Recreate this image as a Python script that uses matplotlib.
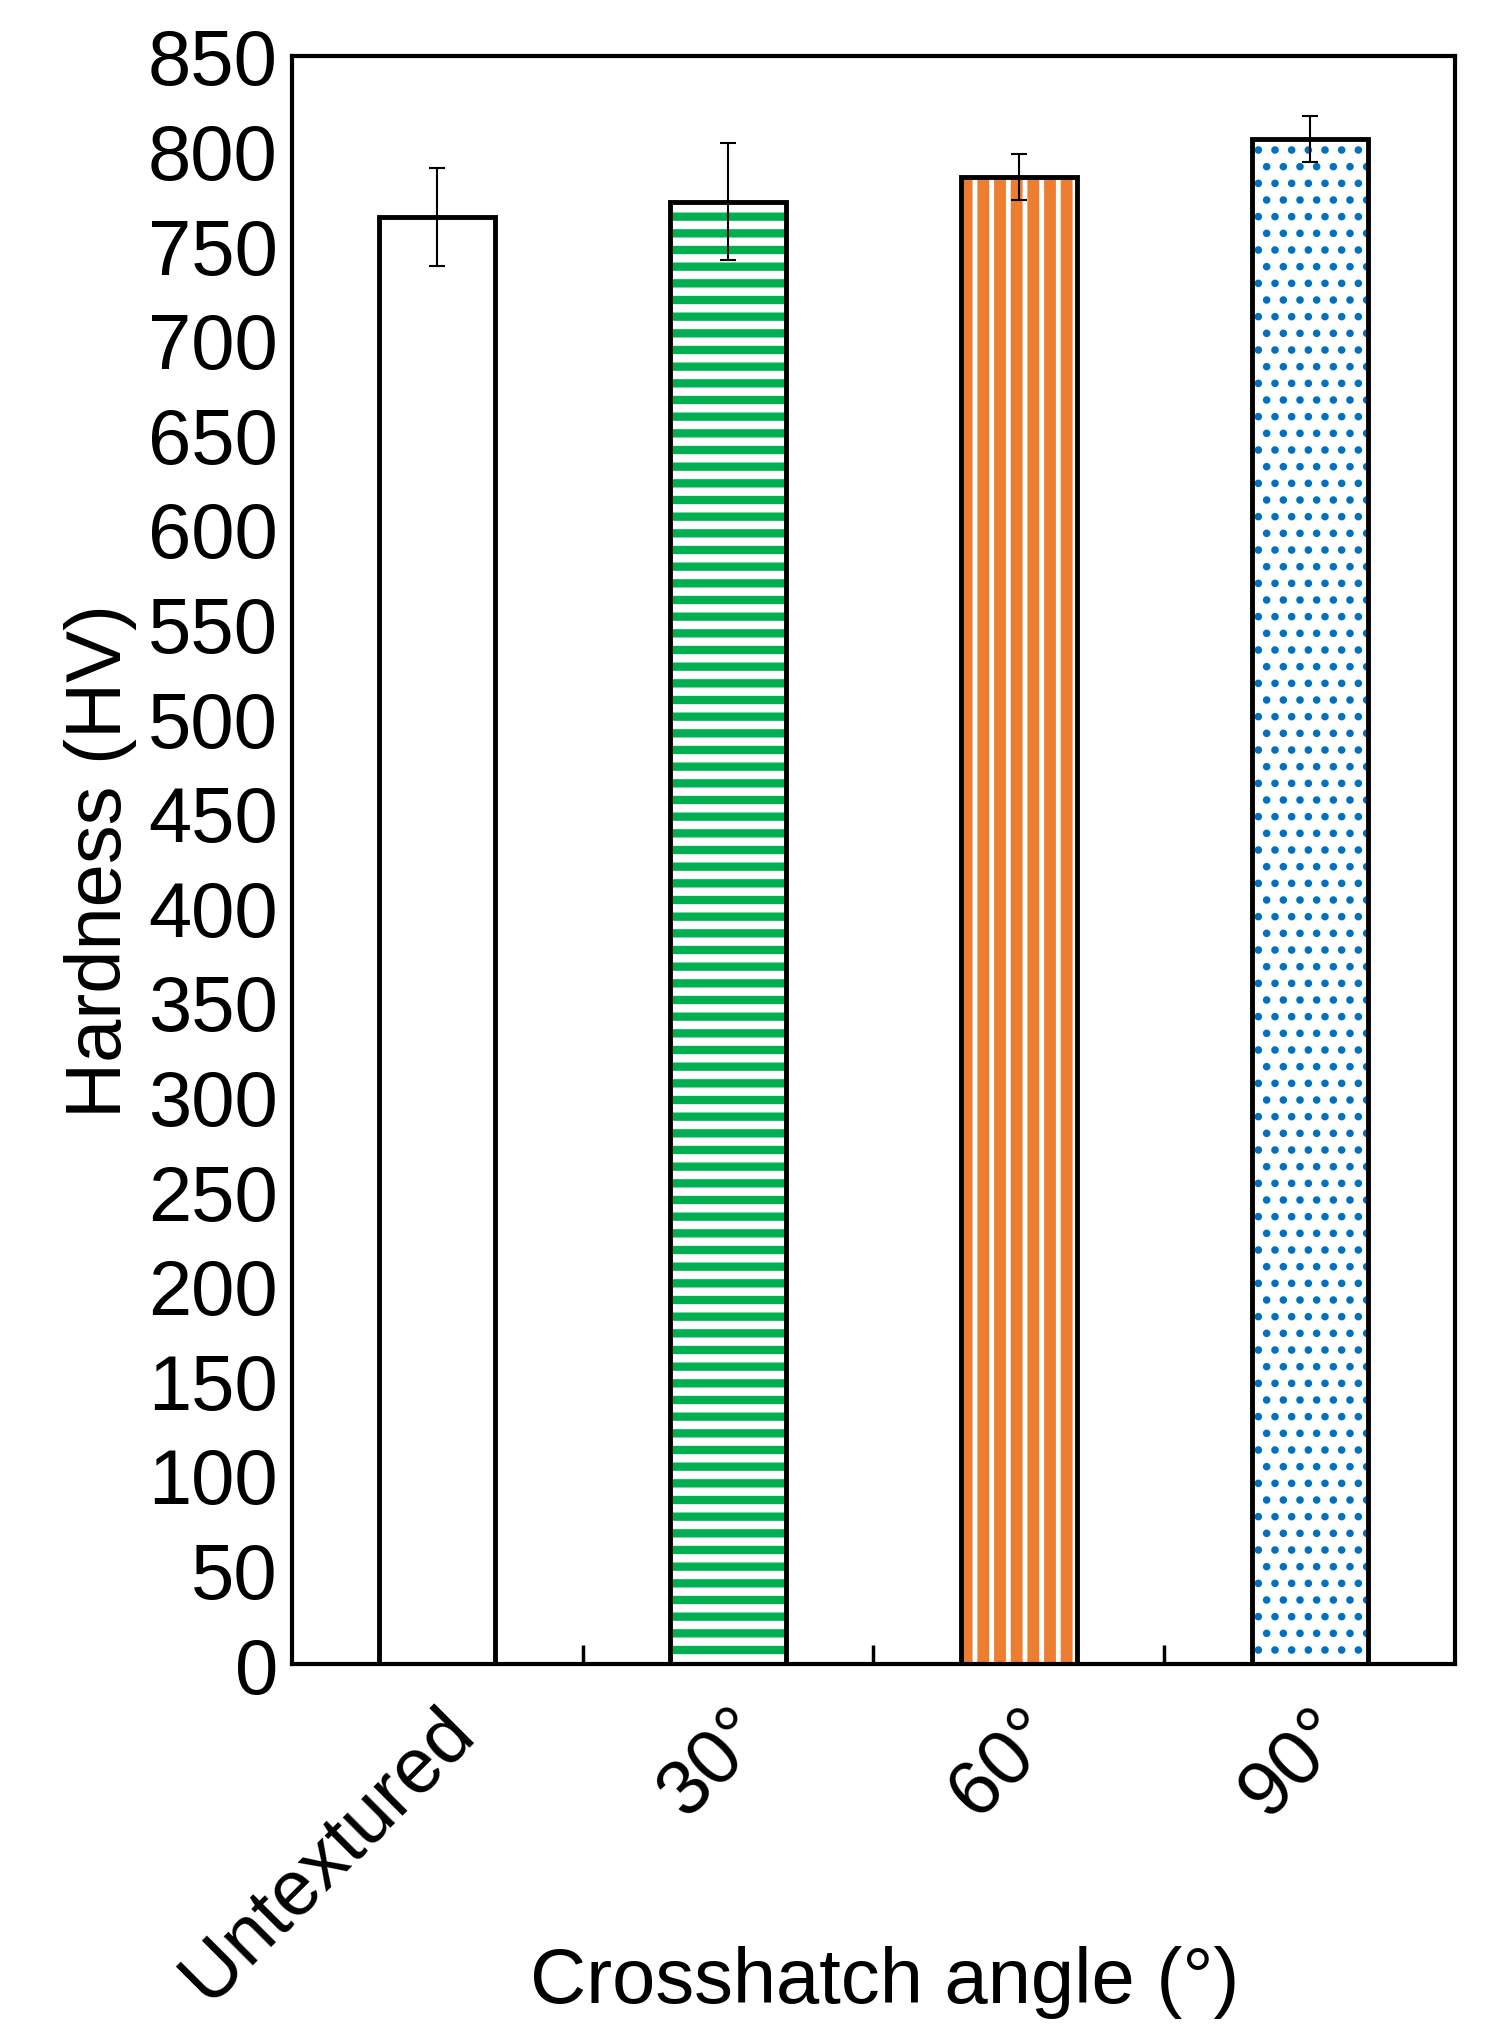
import matplotlib
matplotlib.use("Agg")
import matplotlib.pyplot as plt

categories = ["Untextured", "30°", "60°", "90°"]
hardness = [765, 773, 786, 806]
errors = [26, 31, 12, 12]
faces = ["white", "#00b050", "#ed7d31", "white"]
hatch_colors = ["white", "white", "white", "#0070c0"]
hatches = ["", "-", "|", "."]

plt.rcParams['font.family'] = ['Liberation Sans', 'DejaVu Sans']
plt.rcParams['font.size'] = 56

fig = plt.figure(figsize=(14.88, 20.33), dpi=100)
ax = fig.add_axes([0.196, 0.181, 0.782, 0.791])
x = range(len(categories))
for i in x:
    b = ax.bar(i, hardness[i], width=0.4, color=faces[i], edgecolor=hatch_colors[i],
               hatch=hatches[i] or None, linewidth=0, zorder=2)
    for p in b:
        if hatches[i] == "-":
            p.set_hatch_linewidth(6)
        elif hatches[i] == "|":
            p.set_hatch_linewidth(3.5)
        elif hatches[i] == ".":
            p.set_hatch_linewidth(3)
ax.bar(list(x), hardness, width=0.4, color="none", edgecolor="black", linewidth=3.5, zorder=3)
ax.errorbar(list(x), hardness, yerr=errors, fmt="none", ecolor="black", elinewidth=1.5,
            capsize=6, capthick=1.5, zorder=4)

ax.set_xlim(-0.5, 3.5)
ax.set_ylim(0, 850)
ax.set_yticks(range(0, 851, 50))
ax.set_xticks(list(x))
ax.set_xticklabels(categories, rotation=45, ha="right", rotation_mode="anchor")
ax.set_xticks([0.5, 1.5, 2.5], minor=True)
ax.tick_params(axis="x", which="major", length=0, pad=22)
ax.tick_params(axis="x", which="minor", direction="in", length=14, width=2.5)
ax.tick_params(axis="y", direction="in", length=0, pad=10)
for s in ax.spines.values():
    s.set_linewidth(3)
ax.set_ylabel("Hardness (HV)", labelpad=8)
ax.set_xlabel("Crosshatch angle (°)")
ax.xaxis.set_label_coords(0.51, -0.175)
fig.savefig("out.png", dpi=100)
